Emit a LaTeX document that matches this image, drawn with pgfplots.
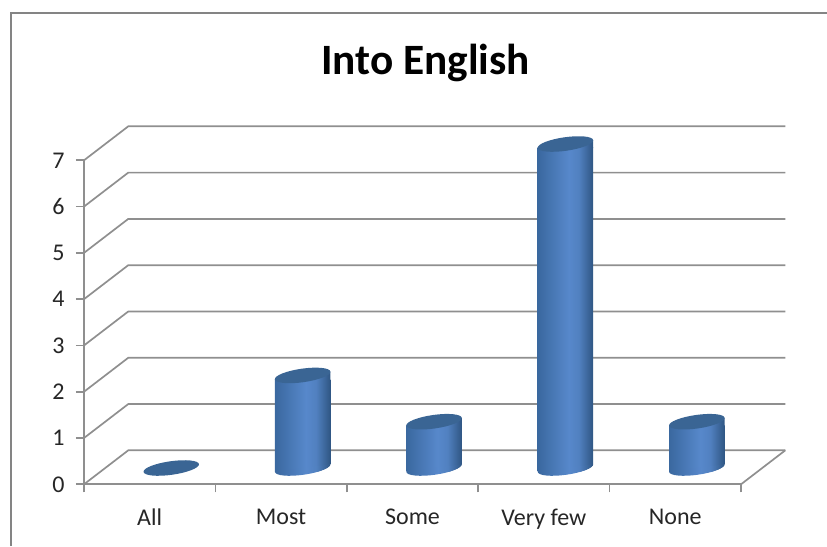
\documentclass[border=0pt]{standalone}
\usepackage{pgfplots}
\pgfplotsset{compat=1.18}
\usepackage{fontspec}
\setmainfont{Carlito}
\definecolor{gridc}{HTML}{8F8F8F}
\definecolor{framec}{HTML}{848484}
\definecolor{cl}{HTML}{3A689F}
\definecolor{cm}{HTML}{5788CB}
\definecolor{cr}{HTML}{2F5683}
\definecolor{ctop}{HTML}{3A6594}
\definecolor{txt}{HTML}{262626}
\pgfdeclarehorizontalshading{cyl}{100bp}{color(0bp)=(cl); color(25bp)=(cl); color(53bp)=(cm); color(62bp)=(cm!85!cr); color(75bp)=(cr); color(100bp)=(cr)}
% top face of a cylinder
\pgfdeclareplotmark{cyltop}{%
  \pgfsetfillcolor{ctop}%
  \pgfpathellipse{\pgfpointorigin}{\pgfpoint{27.73pt}{3.9pt}}{\pgfpoint{-0.95pt}{6.73pt}}%
  \pgfusepathqfill}
% part of the side between the top of the bar and the tilted rim
\pgfdeclareplotmark{cylcollar}{\shade[shading=cyl,draw=none] (-27.73pt,-4.2pt) -- (-27.73pt,-3.9pt) -- (27.73pt,3.9pt) -- (27.73pt,-4.2pt) -- cycle;}
% rounded foot of a cylinder
\pgfdeclareplotmark{cylbase}{%
  \fill[white,draw=none] (-29pt,-13pt) -- (29pt,-13pt) -- (29pt,3.9pt) -- (27.73pt,3.9pt)
     .. controls (28.255pt,0.183pt) and (16.265pt,-4.576pt) .. (0.95pt,-6.73pt)
     .. controls (-14.365pt,-8.884pt) and (-27.205pt,-7.617pt) .. (-27.73pt,-3.9pt) -- (-29pt,-3.9pt) -- cycle;
  \shade[shading=cyl,draw=none] (-27.73pt,-3.9pt) .. controls (-27.205pt,-7.617pt) and (-14.365pt,-8.884pt) .. (0.95pt,-6.73pt)
     .. controls (16.265pt,-4.576pt) and (28.255pt,0.183pt) .. (27.73pt,3.9pt) -- cycle;}
\pgfplotsset{
  cylbar/.style={ybar,bar width=55.46pt,draw=none,shade,shading=cyl,yshift=-3.9pt},
  cylmark/.style={only marks,mark=#1,mark options={draw=none,fill=none}},
}
\begin{document}
\begin{tikzpicture}[x=1pt,y=1pt]
\path[use as bounding box] (0,0) rectangle (827,546);
\draw[framec,line width=2pt] (10.5,0) -- (10.5,533) -- (827,533);
\node[font=\fontsize{43.3}{50}\selectfont\bfseries,text=black] at (425.5,483) {Into English};
\begin{axis}[
  at={(84pt,61.7pt)},anchor=south west,
  scale only axis,width=657pt,height=324pt,
  xmin=0,xmax=5,ymin=0,ymax=7,
  clip=false,
  axis x line*=bottom,axis y line*=left,
  axis line style={gridc,line width=1.7pt,-},
  tick style={gridc,line width=1.7pt},
  major tick length=8pt,tick align=outside,
  xtick={0,1,2,3,4,5},
  xticklabels={All,Most,Some,Very few,None},
  x tick label as interval,
  ytick={0,1,2,3,4,5,6,7},
  /pgf/number format/assume math mode=true,
  tick label style={font=\fontsize{24}{28}\selectfont,text=txt},
  xticklabel style={yshift=-13pt},
  yticklabel style={xshift=-8pt},
]
\pgfplotsinvokeforeach{0,1,2,3,4,5,6,7}{
  \draw[gridc,line width=1.7pt] (axis cs:0,#1) -- (axis cs:0.337,#1+0.734) -- (axis cs:5.337,#1+0.734);
}
\draw[gridc,line width=1.7pt] (axis cs:5,0) -- (axis cs:5.337,0.734);
\end{axis}
% cylinders stand mid-way in the depth of the floor: same scale, shifted origin
\begin{axis}[
  at={(84pt,61.7pt)},anchor=south west,
  scale only axis,width=657pt,height=324pt,
  xmin=-0.664,xmax=4.336,ymin=-0.352,ymax=6.648,
  clip=false,hide axis,
]
\addplot[cylbar] coordinates {(1,2)};
\addplot[cylbar] coordinates {(2,1)};
\addplot[cylbar] coordinates {(3,7)};
\addplot[cylbar] coordinates {(4,1)};
\addplot[cylmark=cylbase] coordinates {(1,0) (2,0) (3,0) (4,0)};
\addplot[cylmark=cylcollar] coordinates {(1,2) (2,1) (3,7) (4,1)};
\addplot[cylmark=cyltop] coordinates {(0,0) (1,2) (2,1) (3,7) (4,1)};
\end{axis}
\end{tikzpicture}
\end{document}
